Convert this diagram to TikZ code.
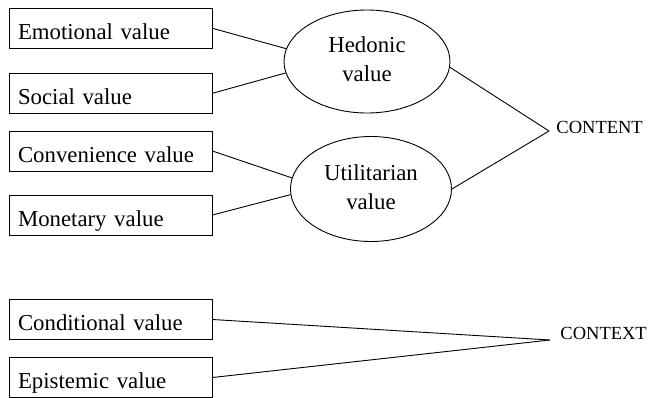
\documentclass[tikz,border=0pt]{standalone}
\usepackage{fontspec}
\setmainfont{Liberation Serif}
\usetikzlibrary{shapes.geometric}
\begin{document}
\begin{tikzpicture}[x=1pt, y=-1pt,
  every path/.style={line width=0.9pt},
  valuebox/.style={draw, line width=0.9pt, rectangle, anchor=center,
    text width=185pt, align=left, inner xsep=9pt, inner ysep=9pt,
    text height=22pt, text depth=0pt,
    font=\fontsize{22.8}{27}\selectfont},
  valueoval/.style={draw, line width=0.9pt, ellipse, inner sep=0pt, align=center,
    font=\fontsize{22.8}{29}\selectfont},
  dimlabel/.style={anchor=west, inner sep=0pt, font=\fontsize{18.5}{22}\selectfont}]
  \useasboundingbox (0,0) rectangle (648,397);

  % value boxes on the left
  \node[valuebox] (emo) at (110.5,28.3)  {Emotional value};
  \node[valuebox] (soc) at (110.5,93.3)  {Social value};
  \node[valuebox] (cnv) at (110.5,151)   {Convenience value};
  \node[valuebox] (mon) at (110.5,215)   {Monetary value};
  \node[valuebox] (cnd) at (110.5,319.5) {Conditional value};
  \node[valuebox] (epi) at (110.5,377.5) {Epistemic value};

  % grouping ellipses (struts keep the two text lines centred)
  \node[valueoval, minimum width=166pt, minimum height=103pt] (hed) at (367,61.5) {\strut Hedonic\\value\strut};
  \node[valueoval, minimum width=161pt, minimum height=105pt] (uti) at (371,189) {\strut Utilitarian\\value\strut};

  % dimension labels and the points where their lines meet
  \coordinate (ctn) at (549,131);
  \coordinate (ctx) at (550,340);
  \node[dimlabel] (content) at (556,127.5) {CONTENT};
  \node[dimlabel] (context) at (560,333.5) {CONTEXT};

  % connectors
  \draw (emo.east) -- (hed.171);
  \draw (soc.east) -- (hed.188);
  \draw (cnv.east) -- (uti.172);
  \draw (mon.east) -- (uti.184);
  \draw (hed.356) -- (ctn);
  \draw (uti.0) -- (ctn);
  \draw (cnd.east) -- (ctx);
  \draw (epi.east) -- (ctx);
\end{tikzpicture}
\end{document}
